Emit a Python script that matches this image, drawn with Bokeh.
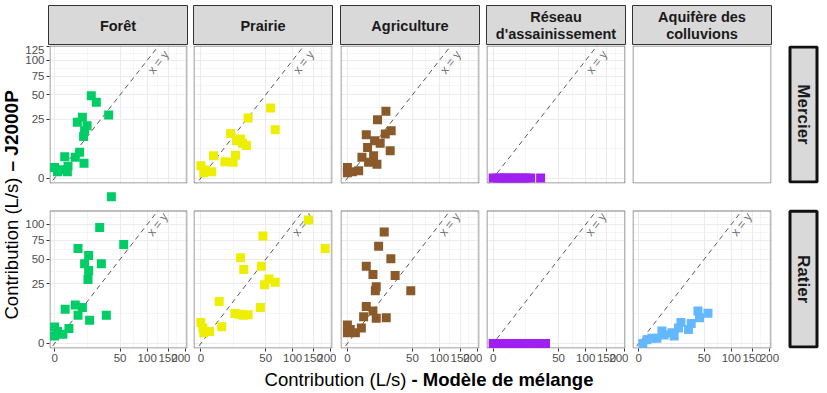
import math
from bokeh.plotting import figure
from bokeh.layouts import row, column
from bokeh.models import Range1d, FixedTicker, CustomJSTickFormatter, Spacer
from bokeh.core.properties import value
from bokeh.embed import file_html
from bokeh.resources import INLINE

FONT = "Liberation Sans"

# ---------------- data ----------------
sources = ["Forêt", "Prairie", "Agriculture", "Réseau\nd'assainissement", "Aquifère des\ncolluvions"]
sites = ["Mercier", "Ratier"]
colors = ["#00CD66", "#EEEE00", "#8B5A2B", "#A020F0", "#63B8FF"]

x_ticks = [0, 50, 100, 150, 200]
y_ticks = [0, 25, 50, 75, 100, 125]

# Mercier  (x: mixing model, y: J2000P), L/s
foret_mercier_x = [15.7, 20.3, 34.1, 9.0, 6.0, 12.3, 10.5, 9.8, 7.3, 5.0, 1.2, 10.1, 0.0, 0.5, 1.9, 0.1, 2.1]
foret_mercier_y = [49.0, 41.4, 28.7, 26.6, 22.4, 19.8, 16.2, 12.4, 4.8, 3.1, 3.3, 1.6, 0.8, 0.5, 0.3, 0.3, 1.0]
prairie_mercier_x = [57.8, 65.7, 26.5, 10.5, 18.7, 15.1, 24.7, 20.6, 1.9, 14.3, 6.9, 12.4, 0.0, 0.2, 1.4, 0.1]
prairie_mercier_y = [35.5, 16.9, 26.1, 14.4, 11.0, 10.1, 7.6, 8.7, 3.6, 3.8, 1.9, 1.8, 1.1, 0.5, 0.3, 0.2]
agri_mercier_x = [17.5, 10.7, 4.2, 22.6, 16.9, 8.7, 12.7, 4.8, 21.6, 2.5, 8.1, 5.3, 10.3, 0.0, 0.3, 1.5, 0.0]
agri_mercier_y = [32.1, 24.6, 13.6, 16.2, 14.0, 10.1, 8.7, 6.8, 5.4, 3.1, 3.6, 1.8, 1.4, 0.8, 0.3, 0.4, 0.2]
reseau_mercier_x = [0.0, 0.3, 0.8, 1.5, 2.5, 3.8, 5.5, 7.5, 9.8, 12.5, 16.4, 26.3]
reseau_mercier_y = [0.0] * 12
aquifere_mercier_x = []
aquifere_mercier_y = []

# Ratier
foret_ratier_x = [37.6, 23.7, 55.7, 6.4, 13.5, 10.5, 25.5, 13.5, 13.0, 5.0, 9.0, 1.3, 6.4, 31.2, 14.3, 0.0, 2.4, 0.1, 0.8, 0.0]
foret_ratier_y = [152.0, 95.0, 69.0, 63.5, 54.7, 44.8, 44.8, 37.5, 28.8, 10.4, 9.1, 8.3, 5.6, 5.6, 3.8, 1.9, 1.6, 1.0, 0.6, 0.4]
prairie_ratier_x = [137.8, 183.5, 45.8, 18.7, 21.9, 43.5, 55.0, 65.7, 48.3, 4.0, 42.1, 13.8, 17.4, 21.2, 26.5, 5.2, 0.0, 0.05, 0.9, 0.1]
prairie_ratier_y = [107.4, 63.5, 81.6, 51.9, 38.6, 42.1, 29.4, 26.4, 24.4, 12.4, 9.1, 6.3, 6.0, 5.6, 5.8, 2.0, 3.1, 1.7, 1.0, 0.8]
agri_ratier_x = [16.0, 11.5, 22.3, 4.2, 7.7, 26.9, 9.8, 9.2, 47.4, 4.2, 7.7, 3.1, 9.8, 17.8, 2.3, 0.0, 0.1, 0.75, 0.0]
agri_ratier_y = [87.8, 66.6, 50.7, 42.1, 33.5, 32.5, 22.8, 19.6, 19.6, 9.6, 7.5, 5.0, 4.5, 4.7, 1.7, 2.4, 1.4, 0.8, 0.8]
reseau_ratier_x = [0.0, 0.3, 0.8, 1.5, 2.5, 3.8, 5.5, 7.5, 9.8, 12.5, 15.5, 19.0, 23.0, 27.5, 32.0]
reseau_ratier_y = [0.0] * 15
aquifere_ratier_x = [56.0, 41.0, 43.2, 32.2, 29.0, 20.8, 18.5, 14.7, 6.3, 7.6, 3.9, 0.8, 0.2, 12.9, 2.0]
aquifere_ratier_y = [6.5, 7.5, 4.7, 2.8, 1.4, 3.1, 1.7, 0.4, 1.1, 0.5, 0.2, 0.1, 0.0, 0.8, 0.2]

data = [
    [(foret_mercier_x, foret_mercier_y), (prairie_mercier_x, prairie_mercier_y),
     (agri_mercier_x, agri_mercier_y), (reseau_mercier_x, reseau_mercier_y),
     (aquifere_mercier_x, aquifere_mercier_y)],
    [(foret_ratier_x, foret_ratier_y), (prairie_ratier_x, prairie_ratier_y),
     (agri_ratier_x, agri_ratier_y), (reseau_ratier_x, reseau_ratier_y),
     (aquifere_ratier_x, aquifere_ratier_y)],
]

# ---------------- layout constants ----------------
YT_W = 22
W = [168, 146, 146, 146, 159]
BL = [26, 3, 4, 4, 4]
BR = [3, 4, 3, 3, 16]
FRAME_W = 139
PANEL_H = 138
STRIP_W = 32
STRIP_H = 45
STRIP_TOP = 5
ROW_H = [141, 184]
GAP = [0, 24]       # free space above each row's panels (inside the frame)
BB = [3, 22]
XT_H = 23
XR = [(-0.55, 14.35), (-0.8, 14.35), (-0.75, 14.35), (-0.72, 14.3), (-0.67, 14.35)]
YR = [(-0.46, 11.26), (-0.42, 11.17)]
XY_LABEL = [(11.2, 9.84), (11.1, 10.0)]
SIDE_BOX = [(1.5, 136.5), (1.5, 137.2)]   # right strip box, px from frame bottom
BORDER = "#7F7F7F"
GRID = "#EBEBEB"
MARK = 9

sq = math.sqrt


def minor_of(major):
    return [(a + b) / 2 for a, b in zip(major, major[1:])]


xmaj = [sq(v) for v in x_ticks]
ymaj_all = [sq(v) for v in y_ticks]
fmt_code = "return String(Math.round(tick * tick));"


def base_fig(width, height, xr, yr, bl, br, bt, bb, xloc=None, yloc=None):
    p = figure(width=width, height=height, x_range=Range1d(*xr), y_range=Range1d(*yr),
               x_axis_location=xloc, y_axis_location=yloc,
               output_backend="svg", toolbar_location=None,
               min_border_left=bl, min_border_right=br, min_border_top=bt, min_border_bottom=bb)
    p.background_fill_color = "white"
    p.border_fill_color = "white"
    return p


def style_axis(ax, major):
    ax.ticker = FixedTicker(ticks=major, minor_ticks=[])
    ax.formatter = CustomJSTickFormatter(code=fmt_code)
    ax.axis_line_color = None
    ax.major_tick_line_color = "#333333"
    ax.major_tick_out = 3
    ax.major_tick_in = 0
    ax.minor_tick_line_color = None
    ax.major_label_standoff = 2
    ax.major_label_text_font = FONT
    ax.major_label_text_font_size = "11.5px"
    ax.major_label_text_color = "#4D4D4D"


def panel(ri, ci):
    bottom = ri == 1
    first = ci == 0
    xs, ys = data[ri][ci]
    x0, x1 = XR[ci]
    y0, y1 = YR[ri]
    kx = FRAME_W / (x1 - x0)
    ky = PANEL_H / (y1 - y0)
    ytop = y1 + GAP[ri] / ky
    p = base_fig(W[ci], ROW_H[ri], (x0, x1), (y0, ytop), BL[ci], BR[ci], 0, BB[ri],
                 xloc="below" if bottom else None, yloc="left" if first else None)
    p.outline_line_color = None
    ymaj = [t for t in ymaj_all if t <= y1]
    if bottom:
        style_axis(p.xaxis[0], xmaj)
    if first:
        style_axis(p.yaxis[0], ymaj)
    if xs:
        p.xgrid.ticker = FixedTicker(ticks=xmaj, minor_ticks=minor_of(xmaj))
        p.ygrid.ticker = FixedTicker(ticks=ymaj, minor_ticks=[t for t in minor_of(ymaj_all) if t <= y1])
        for g in (p.xgrid[0], p.ygrid[0]):
            g.grid_line_color = GRID
            g.grid_line_width = 1
            g.minor_grid_line_color = "#F1F1F1"
            g.minor_grid_line_width = 0.7
    else:
        p.grid.visible = False
    if GAP[ri] > 0:
        # blank the space above the panel (grid lines stop at the panel's top)
        p.quad(left=[x0], right=[x1], bottom=[y1], top=[ytop], fill_color="white",
               line_color=None)
    # panel border
    p.quad(left=[x0 + 0.5 / kx], right=[x1 - 0.5 / kx], bottom=[y0 + 0.5 / ky],
           top=[y1 - 0.5 / ky], fill_color=None, line_color=BORDER, line_width=1)
    if not xs:
        return p
    p.line([-2, y1], [-2, y1], line_dash="5 4", line_color="#595959", line_width=1)
    lx, ly = XY_LABEL[ri]
    p.text(x=[lx], y=[ly], text=["x = y"], angle=0.91, text_align="center",
           text_baseline="middle", text_font=value(FONT), text_font_size="12px",
           text_color="#707070")
    p.scatter(x=[sq(v) for v in xs], y=[sq(v) for v in ys], marker="square", size=MARK,
              fill_color=colors[ci], line_color=None)
    return p


def strip_top(ci):
    s = base_fig(W[ci], STRIP_H, (0, 1), (0, 1), BL[ci], BR[ci], STRIP_TOP, 0)
    s.grid.visible = False
    s.background_fill_color = "#D9D9D9"
    s.outline_line_color = "#333333"
    s.outline_line_width = 1
    s.text(x=[0.5], y=[0.5], text=[sources[ci]], text_align="center", text_baseline="middle",
           text_font=value(FONT), text_font_style="bold", text_font_size="14.5px",
           text_color="#1A1A1A", text_line_height=1.1)
    return s


def strip_right(ri):
    fh = ROW_H[ri] - BB[ri]
    s = base_fig(STRIP_W, ROW_H[ri], (0, STRIP_W), (0, fh), 0, 0, 0, BB[ri])
    s.grid.visible = False
    s.outline_line_color = None
    b, t = SIDE_BOX[ri]
    s.quad(left=[2.5], right=[STRIP_W - 2.5], bottom=[b], top=[t], fill_color="#D9D9D9",
           line_color="#111111", line_width=3)
    s.text(x=[STRIP_W / 2], y=[(b + t) / 2], text=[sites[ri]], angle=-math.pi / 2,
           text_align="center", text_baseline="middle", text_font=value(FONT),
           text_font_style="bold", text_font_size="17px", text_color="#1A1A1A")
    return s


strip_row = row([strip_top(ci) for ci in range(5)] + [Spacer(width=STRIP_W, height=STRIP_H)], spacing=0)
rows = [row([panel(ri, ci) for ci in range(5)] + [strip_right(ri)], spacing=0) for ri in range(2)]
main = column([strip_row] + rows, spacing=0)

# y title
MAIN_H = STRIP_H + sum(ROW_H)
yt = base_fig(YT_W, MAIN_H, (0, YT_W), (0, MAIN_H), 0, 0, 0, 0)
yt.grid.visible = False
yt.outline_line_color = None
yt.text(x=[YT_W / 2], y=[MAIN_H - 319], text=["Contribution (L/s)"], angle=math.pi / 2,
        text_align="left", text_baseline="middle", text_font=value(FONT),
        text_font_size="18.5px", text_color="black")
yt.text(x=[YT_W / 2], y=[MAIN_H - 171], text=["– J2000P"], angle=math.pi / 2,
        text_align="left", text_baseline="middle", text_font=value(FONT),
        text_font_style="bold", text_font_size="19px", text_color="black")

# x title
TOTAL_W = YT_W + sum(W) + STRIP_W
xt = base_fig(TOTAL_W, XT_H, (0, TOTAL_W), (0, XT_H), 0, 0, 0, 0)
xt.grid.visible = False
xt.outline_line_color = None
xt.text(x=[406], y=[XT_H - 9], text=["Contribution (L/s)"], text_align="right",
        text_baseline="middle", text_font=value(FONT), text_font_size="18.5px", text_color="black")
xt.text(x=[411], y=[XT_H - 9], text=["- Modèle de mélange"], text_align="left",
        text_baseline="middle", text_font=value(FONT), text_font_style="bold",
        text_font_size="18.5px", text_color="black")

root = column([row([yt, main], spacing=0), xt], spacing=0)

open("out.html", "w").write(file_html(root, INLINE))
